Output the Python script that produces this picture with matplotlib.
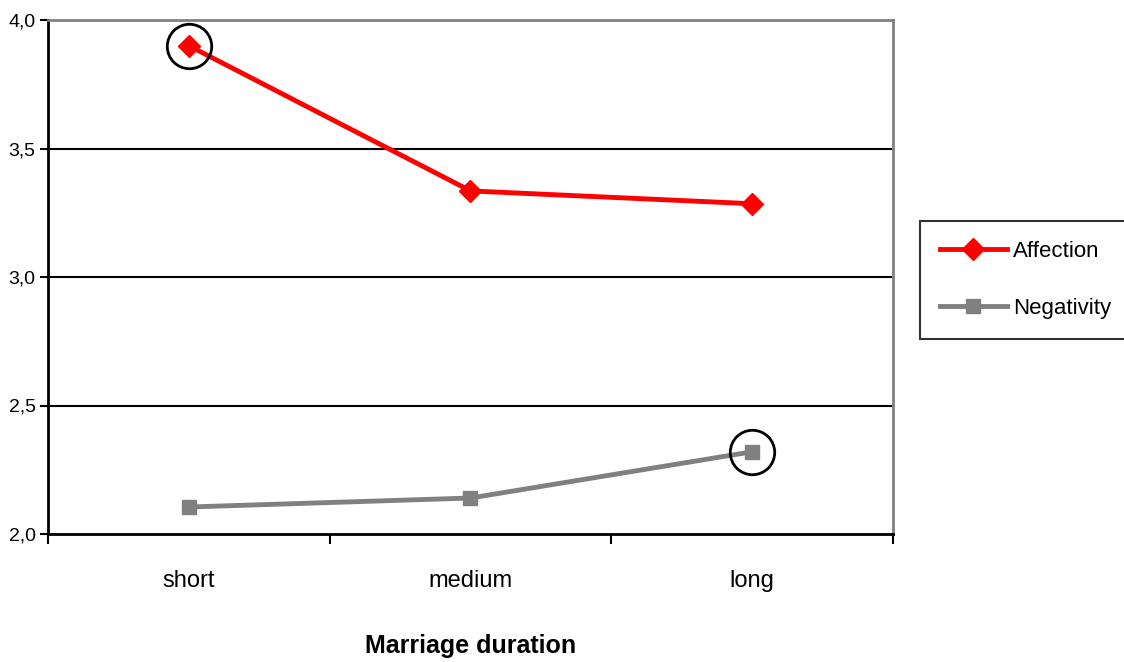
import matplotlib
matplotlib.use("Agg")
import matplotlib.pyplot as plt
from matplotlib import font_manager
import numpy as np

categories = ["short", "medium", "long"]
affection = [3.90, 3.335, 3.285]
negativity = [2.105, 2.14, 2.32]
yticks = [2.0, 2.5, 3.0, 3.5, 4.0]
ytick_labels = ["2,0", "2,5", "3,0", "3,5", "4,0"]
highlight_aff_idx = [0]
highlight_neg_idx = [2]

names = {f.name for f in font_manager.fontManager.ttflist}
fam = "Liberation Sans Narrow" if "Liberation Sans Narrow" in names else "Liberation Sans"
plt.rcParams["font.family"] = [fam, "DejaVu Sans"]

fig = plt.figure(figsize=(11.24, 6.62), dpi=100)
ax = fig.add_axes([48/1124, 1-534/662, (893-48)/1124, (534-20)/662])

x = np.arange(len(categories)) + 0.5
ax.set_xlim(0, len(categories))
ax.set_ylim(2.0, 4.0)

for yv in yticks[1:-1]:
    ax.axhline(yv, color="black", lw=1.5, zorder=1)

ax.plot(x, affection, color="#ff0000", lw=3.5, marker="D", markersize=11,
        label="Affection", zorder=3)
ax.plot(x, negativity, color="#808080", lw=3.5, marker="s", markersize=10.5,
        label="Negativity", zorder=3)

ax.plot([x[i] for i in highlight_aff_idx], [affection[i] for i in highlight_aff_idx],
        linestyle="none", marker="o", markersize=32, markerfacecolor="none",
        markeredgecolor="black", markeredgewidth=2, zorder=4)
ax.plot([x[i] for i in highlight_neg_idx], [negativity[i] for i in highlight_neg_idx],
        linestyle="none", marker="o", markersize=32, markerfacecolor="none",
        markeredgecolor="black", markeredgewidth=2, zorder=4)

ax.set_yticks(yticks)
ax.set_yticklabels(ytick_labels, fontsize=14)
ax.set_xticks(np.arange(len(categories) + 1))
ax.set_xticklabels([])
ax.set_xticks(x, minor=True)
ax.set_xticklabels(categories, minor=True, fontsize=17)
ax.tick_params(axis="x", which="minor", length=0, pad=26)
ax.tick_params(axis="x", which="major", direction="out", length=7, width=1.5, color="black")
ax.tick_params(axis="y", direction="out", length=6, width=1.5, color="black", pad=3)

ax.spines["left"].set_color("black")
ax.spines["left"].set_linewidth(2)
ax.spines["bottom"].set_color("black")
ax.spines["bottom"].set_linewidth(2)
ax.spines["top"].set_color("#808080")
ax.spines["top"].set_linewidth(2)
ax.spines["right"].set_color("#808080")
ax.spines["right"].set_linewidth(2)

ax.set_xlabel("Marriage duration", fontsize=18, fontweight="bold", labelpad=30)

leg = fig.legend(loc="upper left", bbox_to_anchor=(920/1124, 1-221/662),
                 fontsize=16, frameon=True, fancybox=False, edgecolor="black",
                 handlelength=3.0, borderpad=0.9, labelspacing=1.6, handletextpad=0.3,
                 borderaxespad=0)
leg.get_frame().set_linewidth(1.5)

fig.savefig("out.png", dpi=100)
